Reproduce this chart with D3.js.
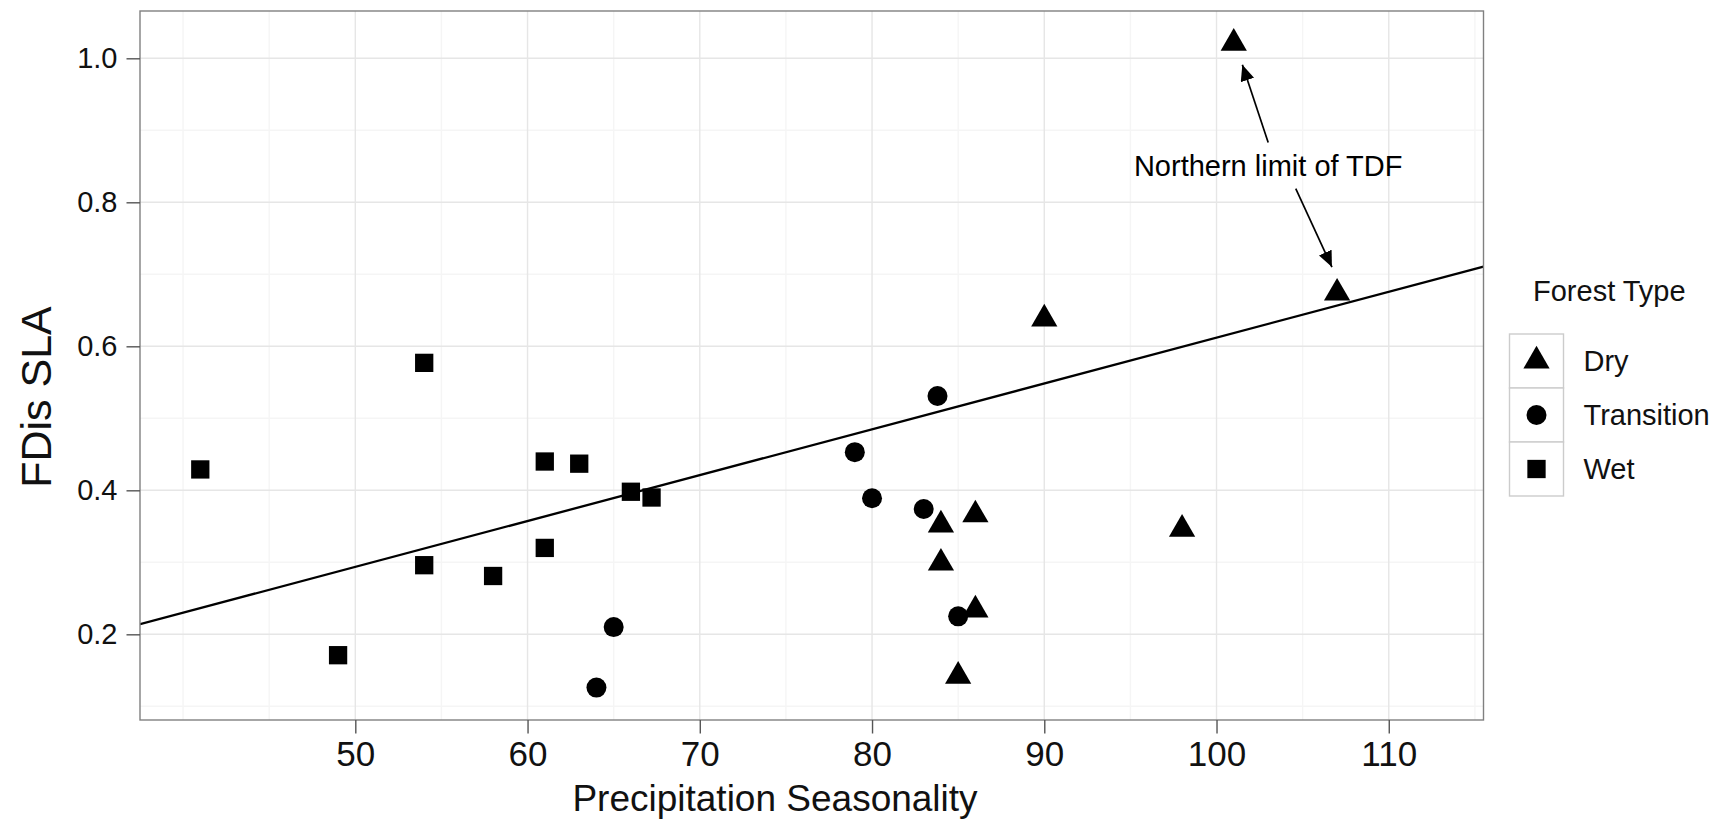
<!DOCTYPE html>
<html>
<head>
<meta charset="utf-8">
<script src="https://cdn.jsdelivr.net/npm/d3@7"></script>
<style>
  html, body { margin: 0; padding: 0; background: #ffffff; }
  svg { display: block; font-family: "Liberation Sans", Arial, Helvetica, sans-serif; }
</style>
</head>
<body>
<svg id="chart" width="1722" height="822"></svg>
<script>
// ---- Data: FDis of SLA against precipitation seasonality, by forest type ----
const forestTypes = ["Dry", "Transition", "Wet"];

const dryX = [84, 86, 84, 86, 85, 90, 98, 101, 107];
const dryY = [0.352, 0.366, 0.299, 0.234, 0.142, 0.638, 0.346, 1.021, 0.674];

const transitionX = [64, 65, 79, 80, 83, 83.8, 85];
const transitionY = [0.126, 0.210, 0.453, 0.389, 0.374, 0.531, 0.225];

const wetX = [41, 49, 54, 54, 58, 61, 61, 63, 66, 67.2];
const wetY = [0.429, 0.171, 0.577, 0.296, 0.281, 0.440, 0.320, 0.437, 0.398, 0.390];

// fitted regression line: FDis = intercept + slope * seasonality
const fitIntercept = -0.0247;
const fitSlope = 0.006368;

// axis breaks
const xTicks = [50, 60, 70, 80, 90, 100, 110];
const xMinor = [40, 45, 55, 65, 75, 85, 95, 105, 115];
const yTicks = [0.2, 0.4, 0.6, 0.8, 1.0];
const yMinor = [0.1, 0.3, 0.5, 0.7, 0.9];
const xDomain = [37.5, 115.5];
const yDomain = [0.081, 1.0657];

// annotation: label and the two arrows pointing to northern-limit sites
const noteText = "Northern limit of TDF";
const noteAt = [103, 0.85];
const noteArrows = [
  { x: 103, y: 0.883, xend: 101.5, yend: 0.991 },
  { x: 104.6, y: 0.819, xend: 106.7, yend: 0.71 }
];

// ---- Layout ----
const svg = d3.select("#chart");
const panel = { left: 140, top: 11, right: 1483.5, bottom: 720 };

const x = d3.scaleLinear().domain(xDomain).range([panel.left, panel.right]);
const y = d3.scaleLinear().domain(yDomain).range([panel.bottom, panel.top]);

const shapeOf = {
  Dry: d3.symbol().type(d3.symbolTriangle).size(298),
  Transition: d3.symbol().type(d3.symbolCircle).size(314),
  Wet: d3.symbol().type(d3.symbolSquare).size(335)
};

const points = [];
dryX.forEach((v, i) => points.push({ type: "Dry", x: v, y: dryY[i] }));
transitionX.forEach((v, i) => points.push({ type: "Transition", x: v, y: transitionY[i] }));
wetX.forEach((v, i) => points.push({ type: "Wet", x: v, y: wetY[i] }));

// panel background
svg.append("rect")
  .attr("x", panel.left).attr("y", panel.top)
  .attr("width", panel.right - panel.left).attr("height", panel.bottom - panel.top)
  .attr("fill", "#ffffff");

// grid lines (minor first, then major)
const grid = svg.append("g");
grid.selectAll(".vminor").data(xMinor.filter(v => v > xDomain[0] && v < xDomain[1])).join("line")
  .attr("x1", d => x(d)).attr("x2", d => x(d))
  .attr("y1", panel.top).attr("y2", panel.bottom)
  .attr("stroke", "#f5f5f5").attr("stroke-width", 1.4);
grid.selectAll(".hminor").data(yMinor.filter(v => v > yDomain[0] && v < yDomain[1])).join("line")
  .attr("y1", d => y(d)).attr("y2", d => y(d))
  .attr("x1", panel.left).attr("x2", panel.right)
  .attr("stroke", "#f5f5f5").attr("stroke-width", 1.4);
grid.selectAll(".vmajor").data(xTicks).join("line")
  .attr("x1", d => x(d)).attr("x2", d => x(d))
  .attr("y1", panel.top).attr("y2", panel.bottom)
  .attr("stroke", "#e6e6e6").attr("stroke-width", 1.4);
grid.selectAll(".hmajor").data(yTicks).join("line")
  .attr("y1", d => y(d)).attr("y2", d => y(d))
  .attr("x1", panel.left).attr("x2", panel.right)
  .attr("stroke", "#e6e6e6").attr("stroke-width", 1.4);

// regression line spanning the panel
const clipId = "panel-clip";
svg.append("clipPath").attr("id", clipId).append("rect")
  .attr("x", panel.left).attr("y", panel.top)
  .attr("width", panel.right - panel.left).attr("height", panel.bottom - panel.top);
svg.append("line")
  .attr("clip-path", `url(#${clipId})`)
  .attr("x1", x(xDomain[0])).attr("y1", y(fitIntercept + fitSlope * xDomain[0]))
  .attr("x2", x(xDomain[1])).attr("y2", y(fitIntercept + fitSlope * xDomain[1]))
  .attr("stroke", "#000").attr("stroke-width", 2.3);

// points
svg.append("g").selectAll("path").data(points).join("path")
  .attr("transform", d => `translate(${x(d.x)},${y(d.y)})`)
  .attr("d", d => shapeOf[d.type]())
  .attr("fill", "#000");

// annotation arrows
const defs = svg.append("defs");
defs.append("marker")
  .attr("id", "arrowhead")
  .attr("viewBox", "0 0 16 14")
  .attr("refX", 16).attr("refY", 7)
  .attr("markerUnits", "userSpaceOnUse")
  .attr("markerWidth", 16).attr("markerHeight", 14)
  .attr("orient", "auto")
  .append("path").attr("d", "M0,0 L16,7 L0,14 Z").attr("fill", "#000");

svg.append("g").selectAll("line").data(noteArrows).join("line")
  .attr("x1", d => x(d.x)).attr("y1", d => y(d.y))
  .attr("x2", d => x(d.xend)).attr("y2", d => y(d.yend))
  .attr("stroke", "#000").attr("stroke-width", 1.7)
  .attr("marker-end", "url(#arrowhead)");

svg.append("text")
  .attr("x", x(noteAt[0])).attr("y", y(noteAt[1]))
  .attr("dy", "0.35em")
  .attr("text-anchor", "middle")
  .attr("font-size", 29).attr("fill", "#000")
  .text(noteText);

// panel border
svg.append("rect")
  .attr("x", panel.left).attr("y", panel.top)
  .attr("width", panel.right - panel.left).attr("height", panel.bottom - panel.top)
  .attr("fill", "none").attr("stroke", "#808080").attr("stroke-width", 1.4);

// axes
const xAxis = d3.axisBottom(x).tickValues(xTicks).tickFormat(d3.format("d"))
  .tickSizeInner(13.5).tickSizeOuter(0).tickPadding(8);
const gx = svg.append("g").attr("transform", `translate(0,${panel.bottom})`).call(xAxis);
gx.select(".domain").remove();
gx.selectAll(".tick line").attr("stroke", "#555").attr("stroke-width", 1.4);
gx.selectAll(".tick text").attr("font-size", 35).attr("fill", "#111")
  .attr("font-family", "Liberation Sans, Arial, sans-serif");

const yAxis = d3.axisLeft(y).tickValues(yTicks).tickFormat(d3.format(".1f"))
  .tickSizeInner(13.5).tickSizeOuter(0).tickPadding(9);
const gy = svg.append("g").attr("transform", `translate(${panel.left},0)`).call(yAxis);
gy.select(".domain").remove();
gy.selectAll(".tick line").attr("stroke", "#555").attr("stroke-width", 1.4);
gy.selectAll(".tick text").attr("font-size", 29).attr("fill", "#111")
  .attr("font-family", "Liberation Sans, Arial, sans-serif");

// axis titles
svg.append("text")
  .attr("x", 775).attr("y", 811)
  .attr("text-anchor", "middle")
  .attr("font-size", 37).attr("fill", "#111")
  .text("Precipitation Seasonality");

svg.append("text")
  .attr("transform", "translate(51,397) rotate(-90)")
  .attr("text-anchor", "middle")
  .attr("font-size", 43).attr("fill", "#111")
  .text("FDis SLA");

// legend
const legend = svg.append("g");
legend.append("text")
  .attr("x", 1533).attr("y", 301)
  .attr("font-size", 29).attr("fill", "#111")
  .text("Forest Type");

const keyX = 1509.5, keyTop = 334, keySize = 54;
const rows = legend.selectAll(".key").data(forestTypes).join("g")
  .attr("transform", (d, i) => `translate(${keyX},${keyTop + i * keySize})`);
rows.append("rect")
  .attr("width", keySize).attr("height", keySize)
  .attr("fill", "#fff").attr("stroke", "#cccccc").attr("stroke-width", 1.4);
rows.append("path")
  .attr("transform", `translate(${keySize / 2},${keySize / 2})`)
  .attr("d", d => shapeOf[d]())
  .attr("fill", "#000");
rows.append("text")
  .attr("x", 74).attr("y", keySize / 2).attr("dy", "0.35em")
  .attr("font-size", 29).attr("fill", "#111")
  .text(d => d);
</script>
</body>
</html>
